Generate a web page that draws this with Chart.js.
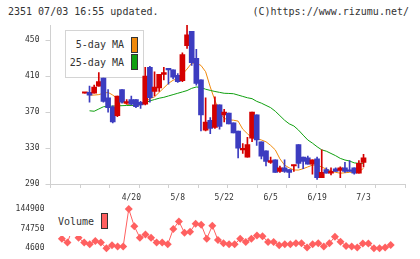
<!DOCTYPE html>
<html>
<head>
<meta charset="utf-8">
<script src="https://cdn.jsdelivr.net/npm/chart.js@4.4.1/dist/chart.umd.min.js"></script>
<style>
body { margin: 0; background: #fff; width: 420px; height: 259px; overflow: hidden; position: relative;
       font-family: "DejaVu Sans Mono", monospace; color: #333; }
canvas { position: absolute; left: 0; top: 0; }
#main { z-index: 2; }
#vol { z-index: 2; }
.txt { position: absolute; font-size: 10px; line-height: 12px; white-space: pre; }
#maLegend { position: absolute; left: 65px; top: 30px; width: 77px; height: 46px; border: 1px solid #d4d4d4; background: #fff; z-index: 1; }
#volLegend { position: absolute; left: 56px; top: 210px; width: 55px; height: 26px; background: #fff; z-index: 3; }
.sw { position: absolute; width: 5px; height: 14px; border: 1px solid #333; }
</style>
</head>
<body>
<div class="txt" style="left:8px;top:6px">2351 07/03 16:55 updated.</div>
<div class="txt" style="right:11px;top:6px">(C)https://www.rizumu.net/</div>

<div id="maLegend"></div>
<div class="txt" style="right:296px;top:39px;z-index:1">5-day MA</div>
<div class="sw" style="left:131px;top:37px;background:#f08a0c;z-index:1"></div>
<div class="txt" style="right:296px;top:57px;z-index:1">25-day MA</div>
<div class="sw" style="left:131px;top:54px;background:#10a010;z-index:1"></div>

<div id="volLegend"></div>
<div class="txt" style="left:58px;top:216px;z-index:4">Volume</div>
<div class="sw" style="left:101px;top:213px;background:#ff6060;z-index:4"></div>

<canvas id="main" width="420" height="259"></canvas>
<canvas id="vol" width="420" height="259"></canvas>

<script>
// trading days shown on the chart
var dates = ['4/6','4/7','4/10','4/11','4/12','4/13','4/14','4/17','4/18','4/19',
  '4/20','4/21','4/24','4/25','4/26','4/27','4/28','5/1','5/2','5/3',
  '5/8','5/9','5/10','5/11','5/12','5/15','5/16','5/17','5/18','5/19',
  '5/22','5/23','5/24','5/25','5/26','5/29','5/30','5/31','6/1','6/2',
  '6/5','6/6','6/7','6/8','6/9','6/12','6/13','6/14','6/15','6/16',
  '6/19','6/20','6/21','6/22','6/23','6/26','6/27','6/28','6/29','6/30','7/3']

var open  = [391,392,391,399,408,386,376,366,395,380, 384,384,381,379,420,393,397,412,418,417,
             411,405,444,460,430,406,350,361,353,378, 367,369,358,349,328,320,341,367,337,327,
             314,317,304,308,306,310,334,320,319,312, 318,297,306,302,307,305,308,305,308,302,314]
var high  = [391,399,400,414,408,395,377,388,395,384, 388,384,382,420,421,415,412,420,418,417,
             413,436,467,460,440,406,386,364,387,378, 373,369,358,349,335,342,370,367,337,327,
             320,317,310,317,306,311,334,320,321,317, 320,328,308,308,308,309,314,316,308,316,323]
var low   = [391,381,391,399,381,370,358,365,380,379, 378,375,374,378,381,388,393,406,401,407,
             403,404,441,422,400,349,349,346,352,351, 359,357,347,319,324,320,337,333,318,310,
             313,303,303,303,297,304,308,307,312,301, 295,297,302,300,304,297,303,304,301,302,309]
var close = [391,389,398,404,382,375,359,388,381,381, 379,376,378,410,386,398,412,414,417,409,
             404,434,456,425,402,367,359,352,378,354, 370,357,347,330,329,334,370,339,321,315,
             316,303,308,304,303,311,313,315,312,317, 297,303,302,304,304,308,304,304,302,313,319]

var ma5  = [null,389,389,389.5,391,392,389,385,381,379, 377.5,377,378.5,381,385,387,392,397,402,405.5,
            407.5,412,418,424.5,424.5,422,415,398,383,370, 363,361.5,361,360,351,346,341,340.5,339,337,
            333,328,318,311,308,305.6,305.5,307,309,311, 311,309,306.5,304.5,303,302,302.5,303,303,303.5,307.5]
var ma25 = [null,371.5,371,373.5,376,376.5,376.7,377,377.2,377.4, 377.5,377.6,378.5,380,382.6,384,385.5,386.5,388,389.5,
            391,392.5,394,396.5,398,397.5,395.5,394.2,393,392, 391,390.8,390.5,389,387.5,386,385,382,380,377.5,
            375,371,366,361,357,354.6,350,344.4,339,335.5, 331.5,328,326.5,324,321.5,318.5,316.7,315.6,313.5,313,313]

var volume = [null,38600,24600,80000,42100,24600,18600,30200,24600,4600,
  15100,10600,10600,144900,82800,42100,53700,42100,24600,24600,
  18600,73700,100400,59700,63200,92300,88800,38600,85300,33700,
  22100,18600,18600,38600,26700,38600,50200,47700,26700,26700,
  15100,18600,18600,22100,22100,7100,18600,22100,10600,22100,
  45600,28100,12700,10600,7100,21100,21100,4600,4600,7100,16200]

var priceTicks = [290,330,370,410,450]
var dateTicks = [10,20,30,40,50,60]
var volTicks = [4600,74750,144900]

var UP = '#d40000', DOWN = '#3c3cc0'
var xMin = -1.04, xMax = 62.57
var tickFont = { family: 'DejaVu Sans Mono', size: 8 }
var tickColor = '#333'
var axisColor = '#d0d0d0'

var candleColors = open.map((o, i) => close[i] >= o ? UP : DOWN)
var pts = arr => arr.map((v, i) => ({ x: i, y: v }))

new Chart(document.getElementById('main'), {
  type: 'bar',
  data: {
    datasets: [
      { label: 'wick', data: low.map((v, i) => ({ x: i, y: [v, high[i]] })),
        backgroundColor: candleColors, barThickness: 1, grouped: false, order: 2 },
      { label: 'body', data: open.map((v, i) => ({ x: i, y: [v, close[i]] })),
        backgroundColor: candleColors, barThickness: 5, minBarLength: 1.5, grouped: false, order: 1 },
      { type: 'line', label: '25-day MA', data: pts(ma25), borderColor: '#10a010',
        borderWidth: 1, pointRadius: 0, order: 3 },
      { type: 'line', label: '5-day MA', data: pts(ma5), borderColor: '#f08a0c',
        borderWidth: 1, pointRadius: 0, order: 3 }
    ]
  },
  options: {
    responsive: false,
    animation: false,
    layout: { padding: { left: 0, right: 15, top: 25, bottom: 0 } },
    plugins: { legend: { display: false }, tooltip: { enabled: false } },
    scales: {
      x: {
        type: 'linear', min: xMin, max: xMax, weight: 1,
        afterBuildTicks: s => { s.ticks = dateTicks.map(v => ({ value: v })) },
        afterFit: s => { s.height = 75 },
        ticks: { callback: v => dates[v], font: tickFont, color: tickColor, padding: 9, maxRotation: 0, autoSkip: false },
        grid: { display: false, drawTicks: false },
        border: { color: axisColor }
      },
      xm: {
        type: 'linear', position: 'bottom', min: 0, max: 11, weight: 0,
        afterBuildTicks: s => { s.ticks = [0,1,2,3,4,5,6,7,8,9,10,11].map(v => ({ value: v })) },
        afterFit: s => { s.height = 0 },
        ticks: { display: false },
        grid: { drawOnChartArea: false, tickLength: 4, color: axisColor },
        border: { display: false }
      },
      y: {
        min: 290, max: 467,
        afterBuildTicks: s => { s.ticks = priceTicks.map(v => ({ value: v })) },
        afterFit: s => { s.width = 50.5 },
        ticks: { font: tickFont, color: tickColor, padding: 6 },
        grid: { drawOnChartArea: false, tickLength: 5, color: axisColor },
        border: { color: axisColor }
      }
    }
  }
})

new Chart(document.getElementById('vol'), {
  type: 'line',
  data: {
    datasets: [{
      label: 'Volume', data: pts(volume), borderColor: '#ff6060', backgroundColor: '#ff6060',
      borderWidth: 1, pointStyle: 'rectRot', pointRadius: 4, pointBorderWidth: 0, clip: false
    }]
  },
  options: {
    responsive: false,
    animation: false,
    layout: { padding: { left: 0, right: 15, top: 209, bottom: 10 } },
    plugins: { legend: { display: false }, tooltip: { enabled: false } },
    scales: {
      x: { type: 'linear', min: xMin, max: xMax, display: false },
      y: {
        min: 4600, max: 144900,
        afterBuildTicks: s => { s.ticks = volTicks.map(v => ({ value: v })) },
        afterFit: s => { s.width = 50.5 },
        ticks: { callback: v => String(v), font: tickFont, color: tickColor, padding: 6 },
        grid: { display: false, drawTicks: false },
        border: { display: false }
      }
    }
  }
})
</script>
</body>
</html>
